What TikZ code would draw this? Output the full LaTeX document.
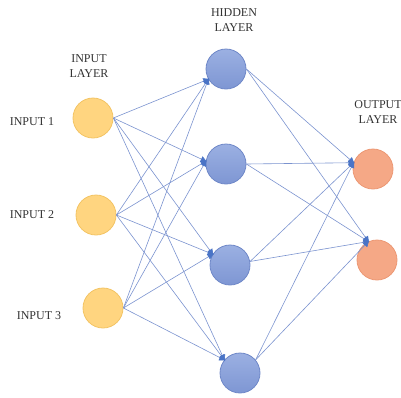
\documentclass[tikz,border=0pt]{standalone}
\usepackage{fontspec}
\setmainfont{Liberation Serif}
\usetikzlibrary{arrows.meta}
\definecolor{inputfill}{HTML}{FFD580}
\definecolor{inputdraw}{HTML}{F3C464}
\definecolor{hiddentop}{HTML}{9BB0E2}
\definecolor{hiddenbot}{HTML}{7E96D3}
\definecolor{hiddendraw}{HTML}{6F88C8}
\definecolor{outputfill}{HTML}{F5A886}
\definecolor{outputdraw}{HTML}{EC9874}
\definecolor{linkblue}{HTML}{7B93CF}
\definecolor{tipblue}{HTML}{4A74C6}

\begin{document}
\begin{tikzpicture}[x=1pt,y=-1pt,
  neuron/.style={circle,minimum size=40pt,inner sep=0pt,line width=0.8pt},
  inputnode/.style={neuron,fill=inputfill,draw=inputdraw},
  hiddennode/.style={neuron,top color=hiddentop,bottom color=hiddenbot,draw=hiddendraw},
  outputnode/.style={neuron,fill=outputfill,draw=outputdraw},
  link/.style={-{Triangle[length=6pt,width=6pt,color=tipblue]},draw=linkblue,line width=0.6pt,shorten >=-1pt},
  label/.style={font=\fontsize{12}{14.5}\selectfont,text=black!80,align=center,inner sep=0pt}]
  \clip (0,0) rectangle (401,397);
  \node[inputnode] (i1) at (93,118) {};
  \node[inputnode] (i2) at (96,215) {};
  \node[inputnode] (i3) at (103,308) {};
  \node[hiddennode] (h1) at (226,69) {};
  \node[hiddennode] (h2) at (226,164) {};
  \node[hiddennode] (h3) at (230,265) {};
  \node[hiddennode] (h4) at (240,373) {};
  \node[outputnode] (o1) at (373,169) {};
  \node[outputnode] (o2) at (377,260) {};
  \node[label] (inlayer) at (89,66) {INPUT\\LAYER};
  \node[label] (hidlayer) at (234,20) {HIDDEN\\LAYER};
  \node[label] (outlayer) at (378,112) {OUTPUT\\LAYER};
  \node[label] (in1) at (32,122) {INPUT 1};
  \node[label] (in2) at (32,215) {INPUT 2};
  \node[label] (in3) at (39,316) {INPUT 3};
  \foreach \i in {1,2,3}
    \foreach \h/\a in {1/210,2/172,3/148,4/140}
      \draw[link] (i\i.east) -- (h\h.\a);
  \foreach \h/\s in {1/0,2/0,3/10,4/40}
    \foreach \o/\a in {1/162,2/115}
      \draw[link] (h\h.\s) -- (o\o.\a);
\end{tikzpicture}
\end{document}
